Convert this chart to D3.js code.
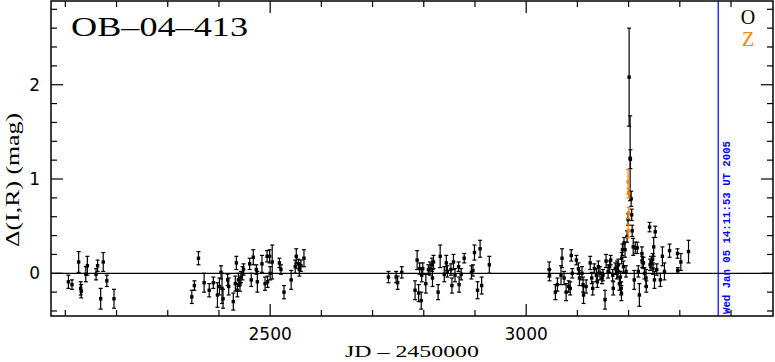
<!DOCTYPE html>
<html>
<head>
<meta charset="utf-8">
<script src="https://cdn.jsdelivr.net/npm/d3@7"></script>
<style>
  html, body { margin: 0; padding: 0; background: #fff; }
  svg { display: block; }
</style>
</head>
<body>
<div id="chart"></div>
<script>
// OB-04-413 light curve — [JD-2450000, Δmag, err]
const seriesO = [
  // 2002 season
  [2106,-0.09,0.07],[2113,-0.12,0.05],[2126,0.12,0.11],[2130,-0.16,0.07],[2131,-0.19,0.07],
  [2140,-0.01,0.08],[2143,0.08,0.10],[2160,-0.01,0.06],[2163,0.08,0.06],[2169,-0.27,0.11],
  [2174,0.12,0.10],[2181,-0.08,0.06],[2195,-0.27,0.10],
  // 2003 season
  [2347,-0.25,0.07],[2352,-0.13,0.05],[2360,0.16,0.07],[2371,-0.10,0.10],[2381,-0.18,0.07],
  [2389,-0.10,0.06],[2397,-0.23,0.13],[2401,-0.14,0.09],[2404,0.01,0.07],[2406,-0.16,0.16],
  [2408,-0.27,0.10],[2417,-0.07,0.06],[2419,-0.14,0.09],[2428,-0.30,0.09],[2432,-0.11,0.08],
  [2434,0.11,0.07],[2436,-0.18,0.07],[2438,-0.07,0.07],[2441,-0.12,0.07],[2443,-0.04,0.06],
  [2446,0.00,0.07],[2448,0.04,0.06],[2460,0.10,0.06],[2463,-0.07,0.07],[2467,0.17,0.08],
  [2473,0.04,0.05],[2475,-0.09,0.11],[2484,0.10,0.09],[2490,-0.11,0.07],[2494,0.18,0.06],
  [2495,-0.09,0.06],[2499,0.18,0.07],[2500,0.00,0.07],[2504,0.12,0.18],[2518,0.11,0.05],
  [2521,0.04,0.05],[2527,-0.20,0.07],[2541,-0.07,0.10],[2549,0.07,0.07],[2551,0.18,0.08],
  [2555,0.10,0.05],[2557,0.04,0.07],[2560,0.08,0.06],[2566,0.16,0.09],
  // 2004 (early) season
  [2731,-0.04,0.06],[2746,-0.04,0.06],[2749,-0.10,0.07],[2757,0.01,0.06],[2783,-0.18,0.10],
  [2787,0.14,0.10],[2790,-0.21,0.09],[2792,0.05,0.06],[2795,-0.29,0.09],[2796,-0.02,0.07],
  [2798,0.05,0.06],[2804,-0.11,0.10],[2809,0.04,0.05],[2812,0.05,0.07],[2816,0.09,0.07],
  [2817,-0.05,0.09],[2819,0.12,0.07],[2828,-0.20,0.08],[2832,0.18,0.12],[2840,-0.01,0.08],
  [2844,0.11,0.08],[2846,0.02,0.06],[2853,0.04,0.06],[2855,-0.13,0.08],[2858,0.12,0.08],
  [2861,-0.02,0.07],[2868,0.07,0.05],[2869,-0.12,0.08],[2873,-0.01,0.06],[2879,0.16,0.05],
  [2893,0.01,0.07],[2896,0.03,0.06],[2899,0.22,0.08],[2905,-0.18,0.09],[2910,0.26,0.09],
  [2913,-0.13,0.09],[2928,0.09,0.09],
  // 2004 season with event
  [3045,0.04,0.08],[3045.5,-0.02,0.06],[3057,-0.20,0.08],[3061,-0.12,0.07],[3068,-0.02,0.10],
  [3070,0.16,0.10],[3074,-0.05,0.07],[3078,-0.20,0.09],[3083,-0.14,0.06],[3086,-0.16,0.07],
  [3088,0.19,0.06],[3090,0.00,0.05],[3098,0.14,0.05],[3102,0.05,0.06],[3104,-0.05,0.08],
  [3109,0.00,0.07],[3111,-0.12,0.08],[3112,-0.23,0.09],[3117,-0.14,0.07],[3125,0.11,0.07],
  [3128,-0.05,0.06],[3130,-0.16,0.07],[3133,0.05,0.05],[3137,-0.02,0.07],[3139,-0.09,0.06],
  [3141,0.07,0.06],[3144,0.00,0.07],[3148,-0.05,0.06],[3150,-0.02,0.06],[3154,-0.28,0.10],
  [3156,0.13,0.07],[3160,0.02,0.07],[3163,0.07,0.06],[3165,0.14,0.05],[3169,-0.02,0.06],
  [3170,-0.16,0.07],[3174,0.05,0.06],[3177,0.00,0.06],[3177.5,0.07,0.06],[3179,0.02,0.06],
  [3180,0.09,0.06],[3182,-0.11,0.07],[3184,-0.04,0.06],[3185.5,-0.16,0.07],[3186,-0.21,0.08],
  [3186.5,0.16,0.06],[3188,0.25,0.06],[3190,0.07,0.06],[3191,0.32,0.06],[3193,0.25,0.08],
  [3195,0.02,0.06],[3197,0.39,0.06],[3199,0.57,0.06],[3201,2.08,0.52],[3203,1.22,0.45],
  [3203.5,1.21,0.10],[3205,0.79,0.08],[3206,0.62,0.06],[3207,0.45,0.06],[3209,0.28,0.09],
  [3211,-0.07,0.10],[3213,0.27,0.06],[3217,0.27,0.06],[3219,0.02,0.06],[3221,-0.23,0.12],
  [3226,0.21,0.07],[3226.5,0.12,0.06],[3229,0.11,0.06],[3231,0.00,0.06],[3234,-0.05,0.09],
  [3234.5,-0.14,0.06],[3241,0.49,0.05],[3242,0.09,0.06],[3244,0.12,0.06],[3247,0.15,0.06],
  [3247.5,0.05,0.06],[3249,0.28,0.10],[3250.5,-0.07,0.09],[3252,0.44,0.06],[3255,0.04,0.06],
  [3262,-0.07,0.07],[3266,0.18,0.10],[3270,0.02,0.09],[3280,0.24,0.07],[3295.5,0.21,0.05],
  [3296,0.03,0.03],[3302,0.12,0.09],[3317,0.23,0.12]
];
const seriesZ = [
  [3199,0.97,0.13],[3200,0.85,0.05],[3200.2,0.64,0.06],[3199.2,0.45,0.07]
];
const xDomain = [2072, 3482];
const yDomain = [-0.453, 2.888];
const xTickLabels = [2500, 3000];
const yTickLabels = [0, 1, 2];
const legendLabels = ["O", "Z"];
const stampText = "Wed Jan 05 14:11:53 UT 2005";
const stampJD = 3375;

const W = 775, H = 362;
const L = 51, R = 773, T = 1, B = 316;

const svg = d3.select("#chart").append("svg").attr("width", W).attr("height", H);
const x = d3.scaleLinear().domain(xDomain).range([L, R]);
const y = d3.scaleLinear().domain(yDomain).range([B, T]);

// ticks (inward, all four sides)
const ticks = svg.append("g").attr("stroke", "#000").attr("stroke-width", 1.2);
d3.range(2100, 3500, 100).forEach(v => {
  const len = v % 500 === 0 ? 12 : 6;
  ticks.append("line").attr("x1", x(v)).attr("x2", x(v)).attr("y1", B).attr("y2", B - len);
  ticks.append("line").attr("x1", x(v)).attr("x2", x(v)).attr("y1", T).attr("y2", T + len);
});
d3.range(-4, 29, 2).map(d => d / 10).forEach(v => {
  const len = Math.abs(v - Math.round(v)) < 1e-6 ? 12 : 6;
  ticks.append("line").attr("x1", L).attr("x2", L + len).attr("y1", y(v)).attr("y2", y(v));
  ticks.append("line").attr("x1", R).attr("x2", R - len).attr("y1", y(v)).attr("y2", y(v));
});

// zero line
svg.append("line").attr("x1", L).attr("x2", R).attr("y1", y(0)).attr("y2", y(0))
  .attr("stroke", "#000").attr("stroke-width", 1.2);

// date stamp line
svg.append("line").attr("x1", x(stampJD)).attr("x2", x(stampJD)).attr("y1", T).attr("y2", B)
  .attr("stroke", "#0000ff").attr("stroke-width", 1.2);
svg.append("text")
  .attr("transform", `translate(${x(stampJD) + 11.5},${B - 2}) rotate(-90)`)
  .attr("font-family", "Liberation Mono, monospace").attr("font-size", 11).attr("font-weight", "bold")
  .attr("textLength", 173).attr("lengthAdjust", "spacingAndGlyphs")
  .attr("fill", "#0000ff").text(stampText);

// error bars + points
function drawSeries(data, color) {
  const g = svg.append("g").attr("stroke", color).attr("fill", color);
  data.forEach(([jd, m, e]) => {
    const cx = x(jd), y1 = y(m + e), y2 = y(m - e);
    g.append("line").attr("x1", cx).attr("x2", cx).attr("y1", y1).attr("y2", y2).attr("stroke-width", 1.2);
    g.append("line").attr("x1", cx - 2).attr("x2", cx + 2).attr("y1", y1).attr("y2", y1).attr("stroke-width", 1.2);
    g.append("line").attr("x1", cx - 2).attr("x2", cx + 2).attr("y1", y2).attr("y2", y2).attr("stroke-width", 1.2);
    g.append("rect").attr("x", cx - 1.7).attr("y", y(m) - 1.7).attr("width", 3.4).attr("height", 3.4).attr("stroke", "none");
  });
}
drawSeries(seriesO, "#000");
drawSeries(seriesZ, "#ff8000");

// frame
svg.append("rect").attr("x", L).attr("y", T).attr("width", R - L).attr("height", B - T)
  .attr("fill", "none").attr("stroke", "#000").attr("stroke-width", 1.5);

// tick labels
svg.selectAll(".xl").data(xTickLabels).join("text")
  .attr("x", d => x(d)).attr("y", 340).attr("text-anchor", "middle")
  .attr("font-family", "DejaVu Sans, sans-serif").attr("font-size", 17).text(d => d);
svg.selectAll(".yl").data(yTickLabels).join("text")
  .attr("x", 40).attr("y", d => y(d) + 6).attr("text-anchor", "end")
  .attr("font-family", "DejaVu Sans, sans-serif").attr("font-size", 17).text(d => d);

// axis titles
svg.append("text").attr("x", (L + R) / 2).attr("y", 357).attr("text-anchor", "middle")
  .attr("font-family", "Liberation Serif, serif").attr("font-size", 17)
  .attr("textLength", 134).attr("lengthAdjust", "spacingAndGlyphs").text("JD – 2450000");
svg.append("text").attr("transform", `translate(19,180) rotate(-90)`).attr("text-anchor", "middle")
  .attr("font-family", "Liberation Serif, serif").attr("font-size", 18)
  .attr("textLength", 134).attr("lengthAdjust", "spacingAndGlyphs").text("Δ(I,R) (mag)");

// title
svg.append("text").attr("x", 71).attr("y", 36)
  .attr("font-family", "Liberation Serif, serif").attr("font-size", 28)
  .attr("textLength", 177).attr("lengthAdjust", "spacingAndGlyphs").text("OB–04–413");

// legend
const legendColors = ["#000", "#ff8000"];
svg.selectAll(".lg").data(legendLabels).join("text")
  .attr("x", 748).attr("y", (d, i) => 24 + i * 22).attr("text-anchor", "middle")
  .attr("font-family", "Liberation Serif, serif").attr("font-size", 20)
  .attr("fill", (d, i) => legendColors[i]).text(d => d);
</script>
</body>
</html>
